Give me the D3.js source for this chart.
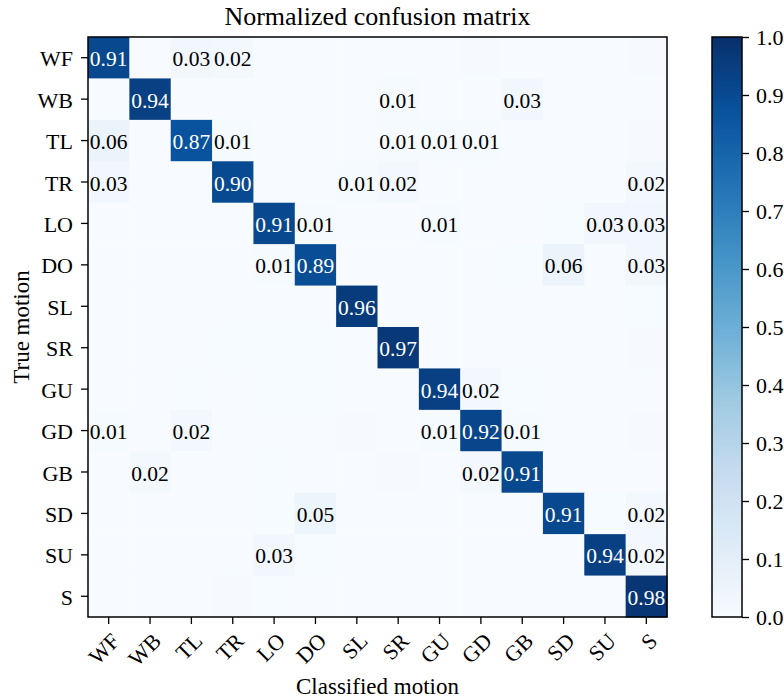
<!DOCTYPE html>
<html>
<head>
<meta charset="utf-8">
<script src="https://cdn.jsdelivr.net/npm/d3@7"></script>
<style>
  html, body { margin: 0; padding: 0; background: #fff; }
  svg text { font-family: "Liberation Serif", "DejaVu Serif", serif; fill: #000; }
</style>
</head>
<body>
<svg id="chart" width="784" height="700"></svg>
<script>
// Motion classes (rows = true motion, columns = classified motion)
const classes = ["WF", "WB", "TL", "TR", "LO", "DO", "SL", "SR", "GU", "GD", "GB", "SD", "SU", "S"];

// Row-normalized confusion matrix
const rowWF = [0.91, 0, 0.03, 0.02, 0, 0, 0, 0, 0, 0.004, 0, 0, 0, 0.004];
const rowWB = [0, 0.94, 0, 0, 0, 0, 0, 0.01, 0, 0, 0.03, 0, 0, 0];
const rowTL = [0.06, 0, 0.87, 0.01, 0, 0, 0, 0.01, 0.01, 0.01, 0, 0, 0, 0.004];
const rowTR = [0.03, 0, 0, 0.90, 0, 0, 0.01, 0.02, 0, 0, 0, 0, 0, 0.02];
const rowLO = [0, 0, 0, 0, 0.91, 0.01, 0, 0, 0.01, 0, 0, 0.003, 0.03, 0.03];
const rowDO = [0, 0, 0, 0, 0.01, 0.89, 0, 0, 0, 0, 0.003, 0.06, 0, 0.03];
const rowSL = [0, 0, 0, 0, 0, 0, 0.96, 0, 0, 0, 0, 0, 0, 0.003];
const rowSR = [0, 0, 0, 0.003, 0.003, 0.003, 0, 0.97, 0, 0, 0, 0, 0, 0.004];
const rowGU = [0, 0, 0.003, 0, 0.003, 0.003, 0, 0, 0.94, 0.02, 0.003, 0, 0, 0];
const rowGD = [0.01, 0, 0.02, 0, 0, 0, 0.004, 0, 0.01, 0.92, 0.01, 0, 0, 0.004];
const rowGB = [0, 0.02, 0, 0, 0.003, 0, 0, 0.004, 0, 0.02, 0.91, 0, 0, 0];
const rowSD = [0, 0, 0, 0, 0.003, 0.05, 0, 0, 0, 0, 0, 0.91, 0.003, 0.02];
const rowSU = [0, 0, 0, 0, 0.03, 0.003, 0, 0, 0, 0, 0, 0, 0.94, 0.02];
const rowS  = [0, 0, 0, 0.004, 0.003, 0, 0, 0, 0, 0, 0, 0, 0, 0.98];
const matrix = [rowWF, rowWB, rowTL, rowTR, rowLO, rowDO, rowSL, rowSR, rowGU, rowGD, rowGB, rowSD, rowSU, rowS];

const colorbarTicks = [0, 0.1, 0.2, 0.3, 0.4, 0.5, 0.6, 0.7, 0.8, 0.9, 1.0];
const blues = ["#f7fbff", "#deebf7", "#c6dbef", "#9ecae1", "#6baed6", "#4292c6", "#2171b5", "#08519c", "#08306b"];

const svg = d3.select("#chart");
const plot = { left: 88, top: 37, right: 667, bottom: 617 };
const cbar = { left: 712, right: 742 };
const tickFont = 22;
const cellFont = 21.5;
const labelFont = 23;

const x = d3.scaleBand().domain(classes).range([plot.left, plot.right]).padding(0);
const y = d3.scaleBand().domain(classes).range([plot.top, plot.bottom]).padding(0);
const color = d3.scaleLinear()
  .domain(blues.map((_, i) => i / (blues.length - 1)))
  .range(blues)
  .interpolate(d3.interpolateRgb)
  .clamp(true);

// Cells
const cells = [];
matrix.forEach((row, i) => row.forEach((v, j) => cells.push({ r: classes[i], c: classes[j], v })));

svg.append("g").selectAll("rect").data(cells).join("rect")
  .attr("x", d => x(d.c))
  .attr("y", d => y(d.r))
  .attr("width", x.bandwidth() + 0.5)
  .attr("height", y.bandwidth() + 0.5)
  .attr("fill", d => color(d.v));

// Cell annotations (values rounded to two decimals, zeros left blank)
svg.append("g").selectAll("text").data(cells.filter(d => +d.v.toFixed(2) > 0)).join("text")
  .attr("x", d => x(d.c) + x.bandwidth() / 2)
  .attr("y", d => y(d.r) + y.bandwidth() / 2 + 8.5)
  .attr("text-anchor", "middle")
  .style("font-size", cellFont + "px")
  .style("fill", d => d.v > 0.5 ? "#fff" : "#000")
  .text(d => d.v.toFixed(2));

// Y axis
const yAxis = svg.append("g")
  .attr("transform", `translate(${plot.left},0)`)
  .call(d3.axisLeft(y).tickSize(7).tickPadding(8));
yAxis.select(".domain").remove();
yAxis.selectAll(".tick line").attr("stroke", "#000").attr("stroke-width", 1.3);
yAxis.selectAll(".tick text")
  .attr("dy", null).attr("y", 8.5)
  .style("font-size", tickFont + "px").style("font-family", "Liberation Serif");

// X axis with rotated labels
const xAxis = svg.append("g")
  .attr("transform", `translate(0,${plot.bottom})`)
  .call(d3.axisBottom(x).tickSize(7).tickPadding(0));
xAxis.select(".domain").remove();
xAxis.selectAll(".tick line").attr("stroke", "#000").attr("stroke-width", 1.3);
xAxis.selectAll(".tick text")
  .attr("dy", null)
  .attr("y", 0)
  .attr("text-anchor", "end")
  .attr("transform", "translate(1,14) rotate(-45) translate(0,16)")
  .style("font-size", tickFont + "px").style("font-family", "Liberation Serif");

// Frame
svg.append("rect")
  .attr("x", plot.left).attr("y", plot.top)
  .attr("width", plot.right - plot.left).attr("height", plot.bottom - plot.top)
  .attr("fill", "none").attr("stroke", "#000").attr("stroke-width", 1.5);

// Title and axis labels
svg.append("text")
  .attr("x", (plot.left + plot.right) / 2).attr("y", 25)
  .attr("text-anchor", "middle").style("font-size", "26px")
  .text("Normalized confusion matrix");
svg.append("text")
  .attr("x", (plot.left + plot.right) / 2).attr("y", 694)
  .attr("text-anchor", "middle").style("font-size", labelFont + "px")
  .text("Classified motion");
svg.append("text")
  .attr("transform", `translate(29,${(plot.top + plot.bottom) / 2}) rotate(-90)`)
  .attr("text-anchor", "middle").style("font-size", labelFont + "px")
  .text("True motion");

// Colorbar
const cy = d3.scaleLinear().domain([0, 1]).range([plot.bottom, plot.top]);
const defs = svg.append("defs");
const grad = defs.append("linearGradient").attr("id", "cbar-grad")
  .attr("x1", 0).attr("y1", 1).attr("x2", 0).attr("y2", 0);
grad.selectAll("stop").data(d3.range(0, 1.0001, 0.02)).join("stop")
  .attr("offset", d => d)
  .attr("stop-color", d => color(d));
svg.append("rect")
  .attr("x", cbar.left).attr("y", plot.top)
  .attr("width", cbar.right - cbar.left).attr("height", plot.bottom - plot.top)
  .attr("fill", "url(#cbar-grad)")
  .attr("stroke", "#000").attr("stroke-width", 1.5);
const cAxis = svg.append("g")
  .attr("transform", `translate(${cbar.right},0)`)
  .call(d3.axisRight(cy).tickValues(colorbarTicks).tickFormat(d3.format(".1f")).tickSize(7).tickPadding(7));
cAxis.select(".domain").remove();
cAxis.selectAll(".tick line").attr("stroke", "#000").attr("stroke-width", 1.3);
cAxis.selectAll(".tick text")
  .attr("dy", null).attr("y", 7.5)
  .style("font-size", tickFont + "px").style("font-family", "Liberation Serif");
</script>
</body>
</html>
